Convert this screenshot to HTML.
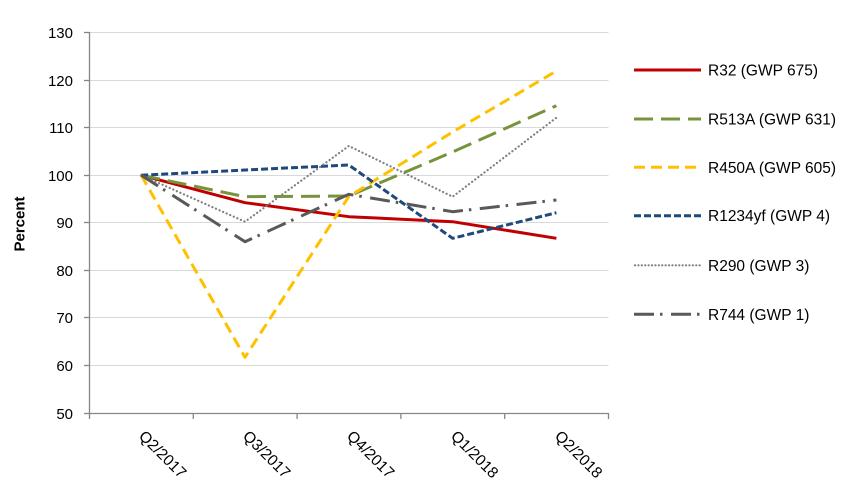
<!DOCTYPE html>
<html><head><meta charset="utf-8"><style>
html,body{margin:0;padding:0;background:#fff;}
svg{display:block;}
text{font-family:"Liberation Sans",Arial,sans-serif;fill:#000;}
</style></head><body>
<svg width="847" height="498" viewBox="0 0 847 498" xmlns="http://www.w3.org/2000/svg">
<!-- gridlines -->
<g stroke="#D9D9D9" stroke-width="1">
<line x1="89.5" y1="32.5" x2="608.5" y2="32.5"/>
<line x1="89.5" y1="80.5" x2="608.5" y2="80.5"/>
<line x1="89.5" y1="127.5" x2="608.5" y2="127.5"/>
<line x1="89.5" y1="175.5" x2="608.5" y2="175.5"/>
<line x1="89.5" y1="222.5" x2="608.5" y2="222.5"/>
<line x1="89.5" y1="270.5" x2="608.5" y2="270.5"/>
<line x1="89.5" y1="317.5" x2="608.5" y2="317.5"/>
<line x1="89.5" y1="365.5" x2="608.5" y2="365.5"/>
</g>
<!-- axes -->
<g stroke="#868686" stroke-width="1.3" fill="none">
<line x1="89.5" y1="32" x2="89.5" y2="413.5"/>
<line x1="89" y1="413.5" x2="609" y2="413.5"/>
<line x1="84" y1="32.5" x2="89.5" y2="32.5"/>
<line x1="84" y1="80.5" x2="89.5" y2="80.5"/>
<line x1="84" y1="127.5" x2="89.5" y2="127.5"/>
<line x1="84" y1="175.5" x2="89.5" y2="175.5"/>
<line x1="84" y1="222.5" x2="89.5" y2="222.5"/>
<line x1="84" y1="270.5" x2="89.5" y2="270.5"/>
<line x1="84" y1="317.5" x2="89.5" y2="317.5"/>
<line x1="84" y1="365.5" x2="89.5" y2="365.5"/>
<line x1="84" y1="413.5" x2="89.5" y2="413.5"/>
<line x1="89.5" y1="413.5" x2="89.5" y2="419"/>
<line x1="193.3" y1="413.5" x2="193.3" y2="419"/>
<line x1="297.1" y1="413.5" x2="297.1" y2="419"/>
<line x1="400.9" y1="413.5" x2="400.9" y2="419"/>
<line x1="504.7" y1="413.5" x2="504.7" y2="419"/>
<line x1="608.5" y1="413.5" x2="608.5" y2="419"/>
</g>
<!-- y tick labels -->
<g font-size="15" text-anchor="end">
<text x="73" y="38">130</text>
<text x="73" y="86">120</text>
<text x="73" y="133">110</text>
<text x="73" y="181">100</text>
<text x="73" y="228">90</text>
<text x="73" y="276">80</text>
<text x="73" y="323">70</text>
<text x="73" y="371">60</text>
<text x="73" y="419">50</text>
</g>
<!-- y axis title -->
<text x="0" y="0" font-size="15" font-weight="bold" text-anchor="middle" transform="translate(24.5,224) rotate(-90)">Percent</text>
<!-- x labels -->
<g font-size="15.5">
<text x="0" y="0" transform="translate(138,437) rotate(45)">Q2/2017</text>
<text x="0" y="0" transform="translate(242,437) rotate(45)">Q3/2017</text>
<text x="0" y="0" transform="translate(346,437) rotate(45)">Q4/2017</text>
<text x="0" y="0" transform="translate(450,437) rotate(45)">Q1/2018</text>
<text x="0" y="0" transform="translate(554,437) rotate(45)">Q2/2018</text>
</g>
<!-- series -->
<g fill="none" stroke-linejoin="round">
<polyline stroke="#C00000" stroke-width="3" points="141.2,175.2 245,202.7 348.8,216.7 452.6,221.7 556.4,238.3"/>
<polyline stroke="#77933C" stroke-width="3" stroke-dasharray="19,8" points="141.2,175.2 245,196.7 348.8,196 452.6,152 556.4,105.7"/>
<polyline stroke="#FFC000" stroke-width="3" stroke-dasharray="11,6" points="141.2,175.2 245,357.3 348.8,196.5 452.6,132 556.4,71"/>
<polyline stroke="#1F497D" stroke-width="3" stroke-dasharray="7,3" points="141.2,175.2 245,170 348.8,165 452.6,238.3 556.4,212.7"/>
<polyline stroke="#7F7F7F" stroke-width="2.2" stroke-linecap="round" stroke-dasharray="0.1,3.8" points="141.2,175.2 245,221.7 348.8,146 452.6,196.7 556.4,117.7"/>
<polyline stroke="#595959" stroke-width="3" stroke-dasharray="20,6,2.5,8.5" points="141.2,175.2 245,241.7 348.8,194.3 452.6,211.7 556.4,200"/>
</g>
<!-- legend -->
<g fill="none">
<line x1="634" y1="70" x2="701" y2="70" stroke="#C00000" stroke-width="3"/>
<line x1="634" y1="119" x2="701" y2="119" stroke="#77933C" stroke-width="3" stroke-dasharray="19,8"/>
<line x1="634" y1="167.3" x2="701" y2="167.3" stroke="#FFC000" stroke-width="3" stroke-dasharray="11,6"/>
<line x1="634" y1="215.7" x2="701" y2="215.7" stroke="#1F497D" stroke-width="3" stroke-dasharray="7,3"/>
<line x1="635" y1="265.3" x2="701" y2="265.3" stroke="#7F7F7F" stroke-width="2.2" stroke-linecap="round" stroke-dasharray="0.1,3.3"/>
<line x1="634" y1="314.3" x2="701" y2="314.3" stroke="#595959" stroke-width="3" stroke-dasharray="20,6,2.5,8.5"/>
</g>
<g font-size="15.5">
<text x="708" y="75.5">R32 (GWP 675)</text>
<text x="708" y="124.5">R513A (GWP 631)</text>
<text x="708" y="172.8">R450A (GWP 605)</text>
<text x="708" y="221.2">R1234yf (GWP 4)</text>
<text x="708" y="270.8">R290 (GWP 3)</text>
<text x="708" y="319.8">R744 (GWP 1)</text>
</g>
</svg>
</body></html>
